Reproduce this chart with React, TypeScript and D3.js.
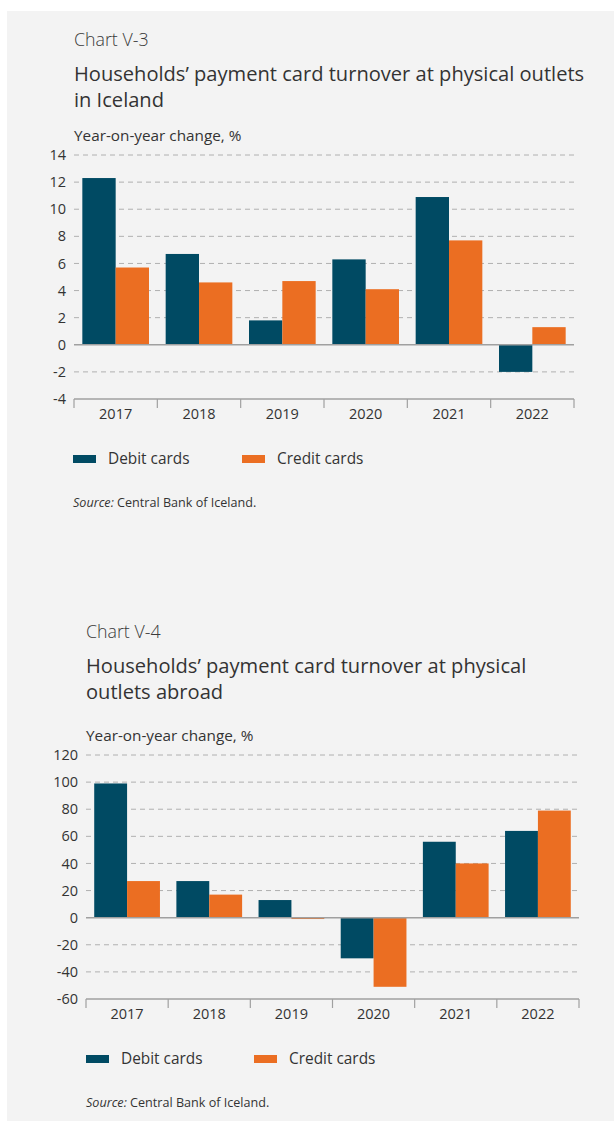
import React from "react";
import * as d3 from "d3";

const years = ["2017", "2018", "2019", "2020", "2021", "2022"];

const icelandDebit = [12.3, 6.7, 1.8, 6.3, 10.9, -2.0];
const icelandCredit = [5.7, 4.6, 4.7, 4.1, 7.7, 1.3];
const icelandTicks = [-4, -2, 0, 2, 4, 6, 8, 10, 12, 14];

const abroadDebit = [99, 27, 13, -30, 56, 64];
const abroadCredit = [27, 17, -1, -51, 40, 79];
const abroadTicks = [-60, -40, -20, 0, 20, 40, 60, 80, 100, 120];

const seriesNames = ["Debit cards", "Credit cards"];
const colors = ["#004a63", "#eb6e22"];

const FONT = "'Open Sans', 'Noto Sans', sans-serif";
const TEXT = "#333";

type PanelProps = {
  top: number;
  textX: number;
  chartLabel: string;
  title: string[];
  debit: number[];
  credit: number[];
  ticks: number[];
  left: number;
  right: number;
  yTop: number;
  yBottom: number;
  legendX: number[];
};

function Panel(p: PanelProps) {
  const x = d3.scaleBand().domain(years).range([p.left, p.right]).paddingInner(0.2).paddingOuter(0.1);
  const inner = d3.scaleBand().domain(seriesNames).range([0, x.bandwidth()]);
  const y = d3.scaleLinear().domain([p.ticks[0], p.ticks[p.ticks.length - 1]]).range([p.yBottom, p.yTop]);
  const step = x.step();
  const series = [p.debit, p.credit];
  const legendY = p.yBottom + 60;

  return (
    <g fontFamily={FONT} fill={TEXT}>
      <text x={p.textX} y={p.top} fontSize={17.8} fontWeight={300} fill="#3a3a3a">{p.chartLabel}</text>
      {p.title.map((t, i) => (
        <text key={t} x={p.textX} y={p.top + 35 + i * 26} fontSize={20.1}>{t}</text>
      ))}
      <text x={p.textX} y={p.yTop - 14} fontSize={15.3}>Year-on-year change, %</text>

      {/* grid */}
      {p.ticks.slice(1).map((t) => t !== 0 && (
        <line key={t} x1={p.left} x2={p.right} y1={y(t)} y2={y(t)} stroke="#b0b0b0" strokeDasharray="5,4" />
      ))}
      {p.ticks.map((t) => (
        <text key={"l" + t} x={p.left - 8} y={y(t)} dy="0.35em" textAnchor="end" fontSize={14.5}>{t}</text>
      ))}

      {/* bars */}
      {series.map((vals, s) =>
        vals.map((v, i) => (
          <rect key={s + "-" + i}
            x={(x(years[i]) as number) + (inner(seriesNames[s]) as number)}
            width={inner.bandwidth()}
            y={y(Math.max(0, v))}
            height={Math.abs(y(v) - y(0))}
            fill={colors[s]} />
        ))
      )}

      <line x1={p.left} x2={p.right} y1={y(0)} y2={y(0)} stroke="#a0a0a0" strokeWidth={1.5} />

      {/* category axis */}
      <line x1={p.left} x2={p.right} y1={p.yBottom} y2={p.yBottom} stroke="#a0a0a0" strokeWidth={1.5} />
      {d3.range(years.length + 1).map((i) => (
        <line key={"t" + i} x1={p.left + i * step} x2={p.left + i * step} y1={p.yBottom} y2={p.yBottom + 9} stroke="#a0a0a0" strokeWidth={1.2} />
      ))}
      {years.map((yr) => (
        <text key={yr} x={(x(yr) as number) + x.bandwidth() / 2} y={p.yBottom + 20} textAnchor="middle" fontSize={14.5}>{yr}</text>
      ))}

      {/* legend */}
      {seriesNames.map((n, s) => (
        <g key={n}>
          <rect x={p.legendX[s]} y={legendY - 4} width={23} height={8} fill={colors[s]} />
          <text x={p.legendX[s] + 35} y={legendY} dy="0.35em" fontSize={15.4}>{n}</text>
        </g>
      ))}

      <text x={p.legendX[0]} y={legendY + 48} fontSize={12.6}>
        <tspan fontStyle="italic">Source:</tspan> Central Bank of Iceland.
      </text>
    </g>
  );
}

export default function App() {
  return (
    <svg width={614} height={1122} style={{ position: "absolute", left: 0, top: 0 }}>
      <rect x={0} y={0} width={614} height={1122} fill="#fff" />
      <rect x={7} y={11} width={607} height={1110} fill="#f3f3f3" />
      <Panel top={46} textX={74} chartLabel="Chart V-3"
        title={["Households’ payment card turnover at physical outlets", "in Iceland"]}
        debit={icelandDebit} credit={icelandCredit} ticks={icelandTicks}
        left={74} right={574} yTop={155} yBottom={399} legendX={[73, 242]} />
      <Panel top={638} textX={86} chartLabel="Chart V-4"
        title={["Households’ payment card turnover at physical", "outlets abroad"]}
        debit={abroadDebit} credit={abroadCredit} ticks={abroadTicks}
        left={86} right={579} yTop={755} yBottom={999} legendX={[86, 254]} />
    </svg>
  );
}
